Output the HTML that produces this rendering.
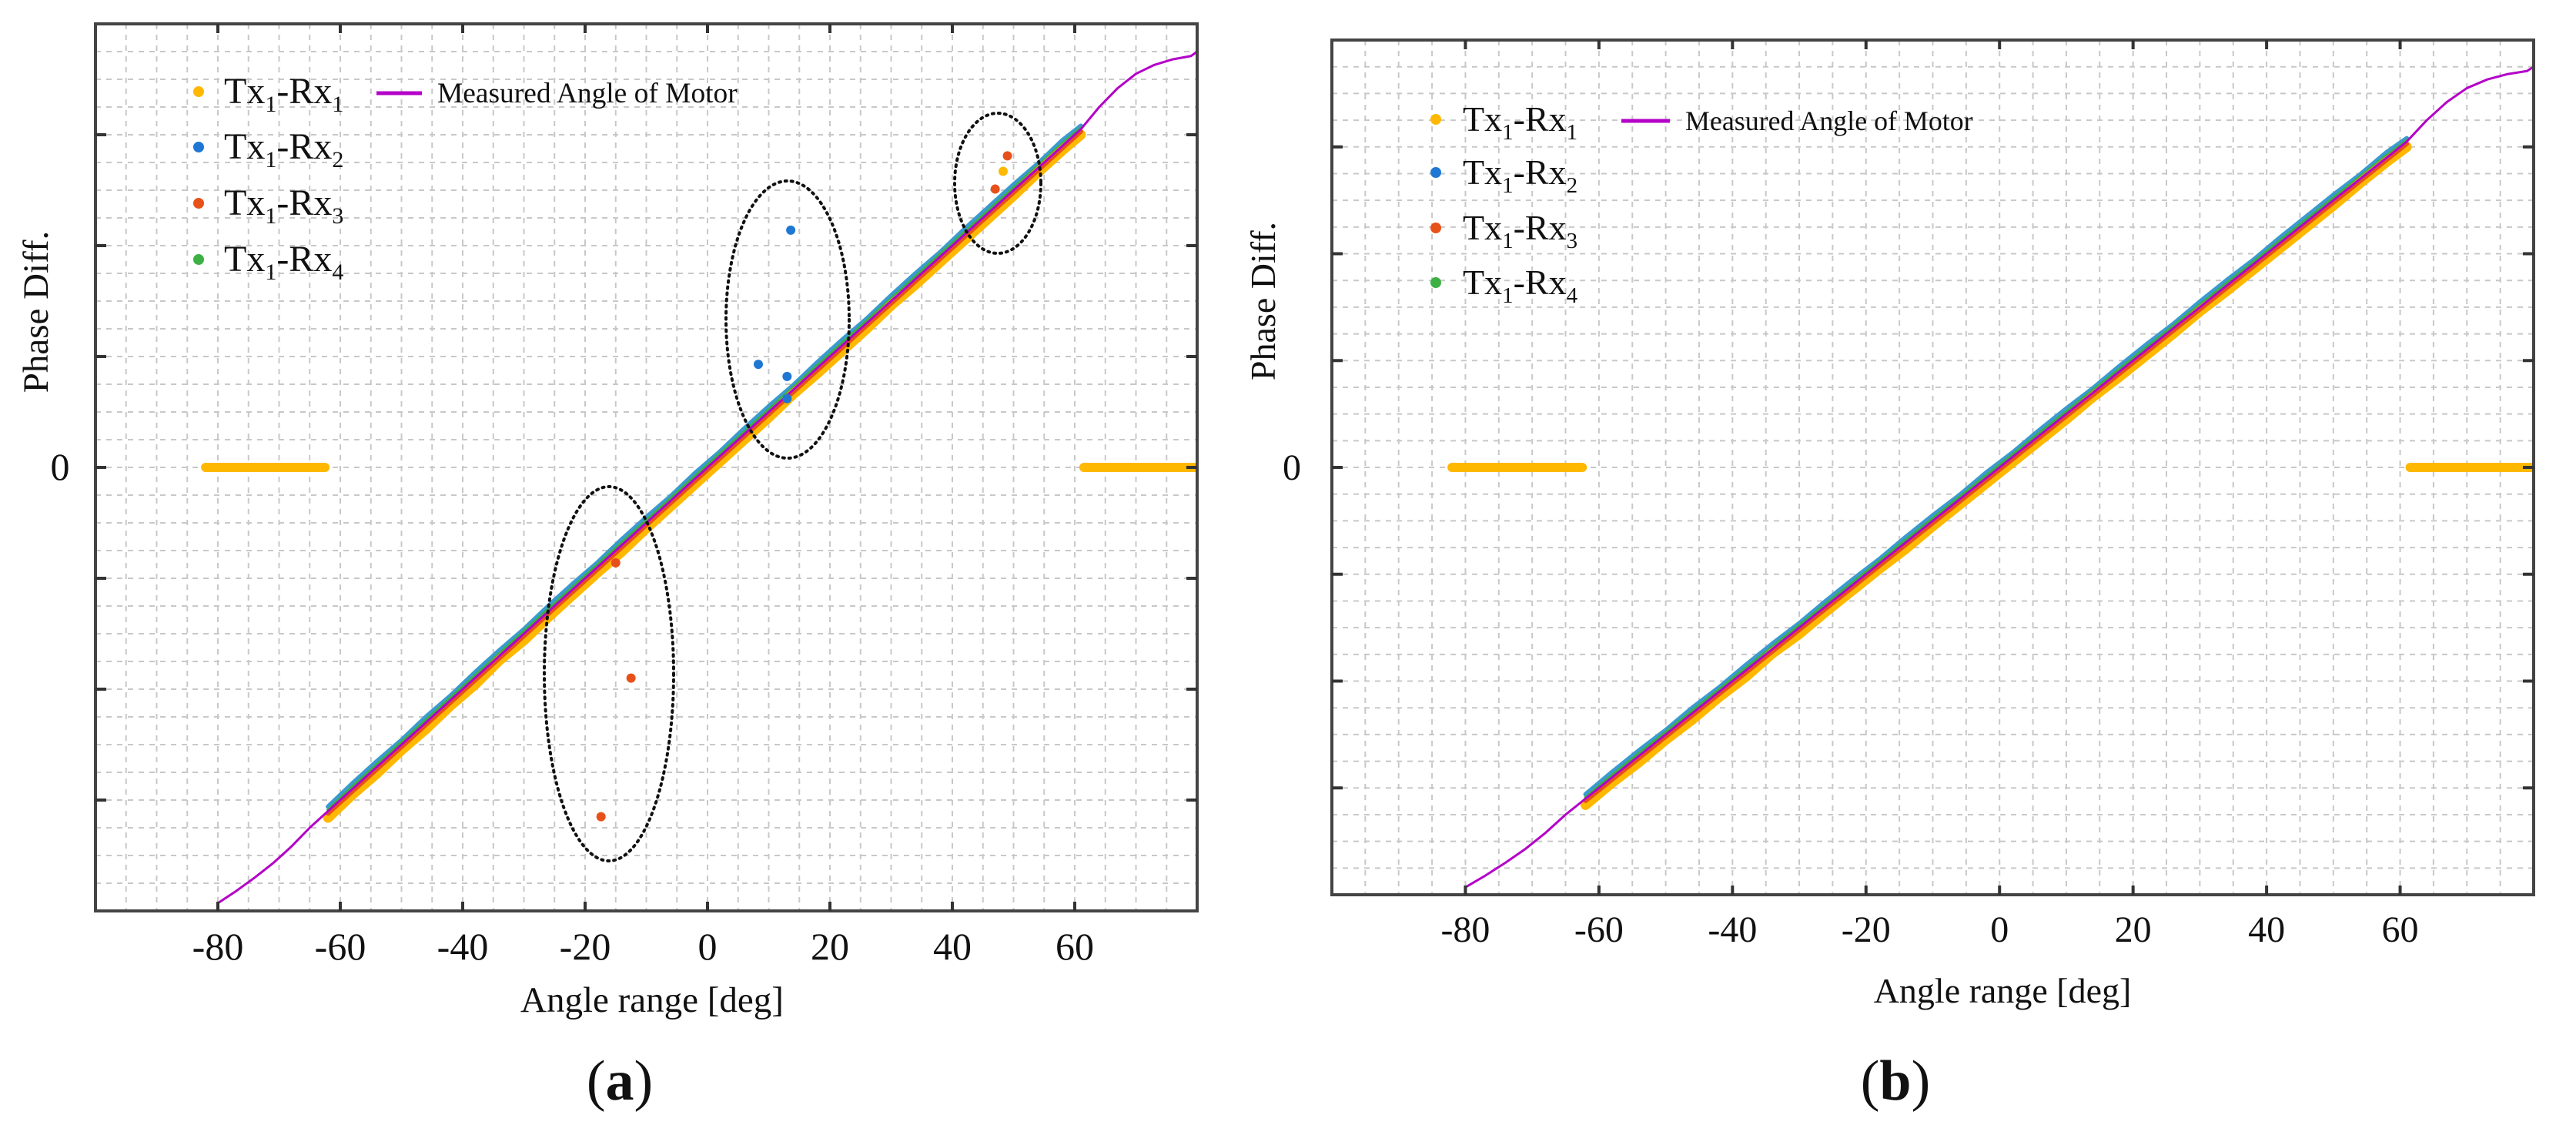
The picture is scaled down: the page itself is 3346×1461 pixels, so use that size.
<!DOCTYPE html>
<html><head><meta charset="utf-8"><style>
html,body{margin:0;padding:0;background:#fff}
svg{display:block}
text{font-family:"Liberation Serif",serif;fill:#111}
</style></head><body>
<svg id="fig" width="3346" height="1461" viewBox="0 0 3346 1461" xmlns="http://www.w3.org/2000/svg"></svg>
<script>
const xTicks=[-80,-60,-40,-20,0,20,40,60];
const angles=[-62,-58,-54,-50,-46,-42,-38,-34,-30,-26,-22,-18,-14,-10,-6,-2,2,6,10,14,18,22,26,30,34,38,42,46,50,54,58,61];
const rx1=[-3.16,-2.95,-2.76,-2.55,-2.36,-2.15,-1.96,-1.74,-1.56,-1.35,-1.15,-0.95,-0.76,-0.55,-0.35,-0.15,0.05,0.25,0.45,0.66,0.85,1.05,1.25,1.46,1.65,1.85,2.05,2.25,2.45,2.66,2.86,3.0];
const rx2=[-3.06,-2.85,-2.65,-2.46,-2.25,-2.06,-1.85,-1.65,-1.46,-1.25,-1.05,-0.86,-0.65,-0.45,-0.26,-0.05,0.14,0.35,0.55,0.74,0.95,1.15,1.34,1.55,1.75,1.94,2.15,2.35,2.55,2.74,2.95,3.08];
const rx3=[-3.12,-2.92,-2.72,-2.52,-2.32,-2.12,-1.92,-1.72,-1.52,-1.32,-1.12,-0.92,-0.72,-0.52,-0.32,-0.12,0.08,0.28,0.48,0.68,0.88,1.08,1.28,1.48,1.68,1.88,2.08,2.28,2.48,2.68,2.88,3.03];
const rx4=[-3.09,-2.88,-2.68,-2.48,-2.28,-2.08,-1.88,-1.68,-1.48,-1.28,-1.08,-0.88,-0.68,-0.48,-0.28,-0.08,0.12,0.32,0.52,0.72,0.92,1.12,1.32,1.52,1.72,1.92,2.12,2.32,2.52,2.72,2.92,3.06];
const motorAngles=[-80,-77,-74,-71,-68,-65,-62,-50,-30,-10,0,10,30,50,61,64,67,70,73,76,79,80];
const motorValues=[-3.93,-3.82,-3.7,-3.57,-3.42,-3.25,-3.1,-2.5,-1.5,-0.5,0,0.5,1.5,2.5,3.05,3.25,3.42,3.55,3.63,3.68,3.71,3.75];
const zeroLeftAngles=[-82,-62.5];
const zeroRightAngles=[61.5,80];
const zeroValues=[0,0];
const outlierAnglesA=[13.6,8.3,13,13,-15,-12.5,-17.4,49,48.3,47];
const outlierValuesA=[2.14,0.93,0.82,0.62,-0.86,-1.9,-3.15,2.81,2.67,2.51];
const outlierSeriesA=[2,2,2,2,3,3,3,3,1,3];

const NS='http://www.w3.org/2000/svg';
const svg=document.getElementById('fig');
const colors={1:'#FFB800',2:'#1F77D4',3:'#E8501A',4:'#3CB043',m:'#B400C8'};
function mk(tag,attrs,parent){const e=document.createElementNS(NS,tag);for(const k in attrs)e.setAttribute(k,attrs[k]);(parent||svg).appendChild(e);return e;}

function panel(P){
  const g=mk('g',{});
  
  
  const X=a=>P.x0+(a-(-100))/180*(P.x1-P.x0);
  const Y=v=>(P.y0+P.y1)/2-v/8*(P.y1-P.y0);
  const clipId='clip'+P.id;
  const cp=mk('clipPath',{id:clipId},g);mk('rect',{x:P.x0,y:P.y0,width:P.x1-P.x0,height:P.y1-P.y0},cp);
  const grid=mk('g',{stroke:'#c8c8c8','stroke-width':2,'stroke-dasharray':'7 7'},g);
  
  for(let a=-95;a<80;a+=5)mk('line',{x1:X(a),x2:X(a),y1:P.y0,y2:P.y1},grid);
  for(let v=-3.75;v<4;v+=0.25)mk('line',{x1:P.x0,x2:P.x1,y1:Y(v),y2:Y(v)},grid);
  const dg=mk('g',{'clip-path':'url(#'+clipId+')'},g);
  function poly(xs,ys,col,w,name){
    const pts=xs.map((a,i)=>X(a)+','+Y(ys[i])).join(' ');
    const p=mk('polyline',{points:pts,fill:'none',stroke:col,'stroke-width':w,'stroke-linecap':'round','stroke-linejoin':'round'},dg);
    
  }
  poly(zeroLeftAngles,zeroValues,colors[1],12,'zero-segment-left');
  poly(zeroRightAngles,zeroValues,colors[1],12,'zero-segment-right');
  poly(angles,rx2,'#3a9ad0',6,'series-tx1-rx2');
  poly(angles,rx4,colors[4],4,'series-tx1-rx4');
  poly(angles,rx1,colors[1],13,'series-tx1-rx1');
  poly(angles,rx3,colors[3],6,'series-tx1-rx3');
  poly(motorAngles,motorValues,colors.m,3,'measured-angle-line');
  if(P.outliers){
    outlierAnglesA.forEach((a,i)=>{
      const c=mk('circle',{cx:X(a),cy:Y(outlierValuesA[i]),r:6,fill:colors[outlierSeriesA[i]]},dg);
      
    });
    P.ellipses.forEach(e=>{
      const el=mk('ellipse',{cx:e[0],cy:e[1],rx:e[2],ry:e[3],fill:'none',stroke:'#111','stroke-width':4,'stroke-dasharray':'2 6','stroke-linecap':'round'},g);
      
    });
  }
  const fr=mk('rect',{x:P.x0,y:P.y0,width:P.x1-P.x0,height:P.y1-P.y0,fill:'none',stroke:'#444','stroke-width':4},g);
  
  xTicks.forEach(t=>{
    mk('line',{x1:X(t),x2:X(t),y1:P.y0,y2:P.y0+12,stroke:'#333','stroke-width':4},g);
    mk('line',{x1:X(t),x2:X(t),y1:P.y1,y2:P.y1-12,stroke:'#333','stroke-width':4},g);
    const tx=mk('text',{x:X(t),y:P.tickY,'font-size':P.tickFs,'text-anchor':'middle'},g);tx.textContent=t;
    
  });
  for(let v=-3;v<=3;v++){
    mk('line',{x1:P.x0,x2:P.x0+14,y1:Y(v),y2:Y(v),stroke:'#333','stroke-width':4},g);
    mk('line',{x1:P.x1,x2:P.x1-14,y1:Y(v),y2:Y(v),stroke:'#333','stroke-width':4},g);
  }
  const z=mk('text',{x:P.zeroX,y:Y(0)+16,'font-size':P.tickFs,'text-anchor':'middle'},g);z.textContent='0';
  
  const yl=mk('text',{x:0,y:0,'font-size':P.titleFs,'text-anchor':'middle',transform:`translate(${P.ylX},${P.ylY}) rotate(-90)`},g);yl.textContent='Phase Diff.';
  
  const xl=mk('text',{x:P.xlX,y:P.xlY,'font-size':P.titleFs,'text-anchor':'middle'},g);xl.textContent='Angle range [deg]';
  
  const cap=mk('text',{x:P.capX,y:P.capY,'font-size':74,'text-anchor':'middle'},g);
  cap.innerHTML='(<tspan font-weight="bold">'+P.id+'</tspan>)';
  
  const lg=mk('g',{},g);
  [1,2,3,4].forEach((s,i)=>{
    const y=P.legY[i];
    mk('circle',{cx:P.legDotX,cy:y,r:7,fill:colors[s]},lg);
    const t=mk('text',{x:P.legTxtX,y:y+15,'font-size':P.legFs},lg);
    t.innerHTML='Tx<tspan font-size="'+Math.round(P.legFs*0.62)+'" dy="11">1</tspan><tspan dy="-11">-Rx</tspan><tspan font-size="'+Math.round(P.legFs*0.62)+'" dy="11">'+s+'</tspan>';
    
  });
  mk('line',{x1:P.mLine[0],x2:P.mLine[1],y1:P.mLine[2],y2:P.mLine[2],stroke:colors.m,'stroke-width':5},lg);
  const mt=mk('text',{x:P.mLine[1]+20,y:P.mLine[2]+12,'font-size':P.legFs*0.78},lg);mt.textContent='Measured Angle of Motor';
  
}
panel({id:'a',x0:124,x1:1555,y0:31,y1:1183,tickY:1246,tickFs:50,titleFs:47,zeroX:78,ylX:62,ylY:405,xlX:847,xlY:1314,capX:805,capY:1428,
  legDotX:258,legTxtX:291,legY:[119,191,264,337],legFs:48,mLine:[489,548,121],outliers:true,
  ellipses:[[1023,415,80,180],[791,875,84,243],[1296,238,56,91]]});
panel({id:'b',x0:1730,x1:3291,y0:52,y1:1162,tickY:1223,tickFs:48,titleFs:46,zeroX:1678,ylX:1656,ylY:391,xlX:2601,xlY:1302,capX:2462,capY:1428,
  legDotX:1865,legTxtX:1900,legY:[155,224,296,367],legFs:46,mLine:[2106,2169,157],outliers:false});
</script>
</body></html>
